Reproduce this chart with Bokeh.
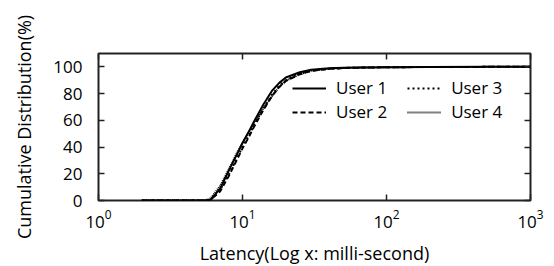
from bokeh.plotting import figure
from bokeh.models import Legend, LegendItem, FixedTicker, LogAxis, LinearAxis
from bokeh.embed import file_html
from bokeh.resources import INLINE

latency_ms = [2, 3, 4, 5, 5.5, 6, 7, 8, 9, 10, 11, 12, 14, 16, 18, 20, 25, 30, 40, 50, 70, 100, 200, 500, 1000]
user1 = [0, 0, 0, 0, 0, 0.5, 9, 22, 33, 43, 51, 59, 72, 82, 88, 92, 96, 97.8, 98.9, 99.3, 99.6, 99.8, 99.9, 100, 100]
user2 = [0, 0, 0, 0, 0, 0.3, 7, 18, 29, 39, 47, 55, 68, 78, 85, 89.5, 94.5, 97, 98.5, 99.1, 99.5, 99.7, 99.9, 100, 100]
user3 = [0, 0, 0, 0, 0, 0.4, 8, 19, 30, 40, 48, 56, 69, 79, 86, 90, 95, 97.3, 98.6, 99.2, 99.5, 99.7, 99.9, 100, 100]
user4 = [0, 0, 0, 0, 0.2, 1.5, 11, 23, 34, 43, 51, 58, 69, 78, 85, 89.5, 94.5, 97, 98.6, 99.2, 99.5, 99.7, 99.9, 100, 100]
series_names = ["User 1", "User 2", "User 3", "User 4"]
y_ticks = [0, 20, 40, 60, 80, 100]
x_ticks = [1, 10, 100, 1000]

FONT = "Open Sans"

p = figure(frame_width=432, frame_height=147, x_axis_type="log", x_range=(1, 1000), y_range=(0, 110),
           output_backend="svg", toolbar_location=None,
           min_border_left=98, min_border_right=16, min_border_top=53, min_border_bottom=50)

p.xgrid.visible = False
p.ygrid.visible = False
p.outline_line_color = "#222222"
p.outline_line_width = 2

dashes = ["solid", "5 3", "2 3", "1 1"]
renderers = []
for ys, d in zip([user1, user2, user3, user4], dashes):
    r = p.line(latency_ms, ys, line_color="black", line_width=2, line_dash=d)
    renderers.append(r)

for ax in (p.xaxis[0], p.yaxis[0]):
    ax.axis_line_color = None
    ax.major_tick_in = 6
    ax.major_tick_out = 0
    ax.minor_tick_in = 0
    ax.minor_tick_out = 0
    ax.major_tick_line_color = "#222222"
    ax.major_tick_line_width = 1.5
    ax.major_label_text_font = FONT
    ax.major_label_text_font_size = "17px"
    ax.major_label_text_color = "black"
    ax.axis_label_text_font = FONT
    ax.axis_label_text_font_style = "normal"
    ax.axis_label_text_color = "black"

p.xaxis.ticker = FixedTicker(ticks=x_ticks)
p.yaxis.ticker = FixedTicker(ticks=y_ticks)
p.xaxis.axis_label = "Latency(Log x: milli-second)"
p.yaxis.axis_label = "Cumulative Distribution(%)"
p.xaxis.axis_label_text_font_size = "18px"
p.yaxis.axis_label_text_font_size = "18px"
p.yaxis.major_label_standoff = 16
p.xaxis.major_label_standoff = 9
p.xaxis.axis_label_standoff = 10
p.yaxis.axis_label_standoff = 14

# mirrored ticks
top = LogAxis(ticker=FixedTicker(ticks=x_ticks), major_label_text_alpha=0,
              axis_line_color=None, major_tick_in=6, major_tick_out=0,
              minor_tick_in=0, minor_tick_out=0, major_tick_line_width=1.5,
              major_tick_line_color="#222222")
right = LinearAxis(ticker=FixedTicker(ticks=y_ticks), major_label_text_alpha=0,
                   axis_line_color=None, major_tick_in=6, major_tick_out=0,
                   minor_tick_in=0, minor_tick_out=0, major_tick_line_width=1.5,
                   major_tick_line_color="#222222")
p.add_layout(top, "above")
p.add_layout(right, "right")

items = [LegendItem(label=n, renderers=[r]) for n, r in zip(series_names, renderers)]

def make_legend(row_items, loc):
    lg = Legend(items=row_items, orientation="horizontal")
    lg.location = loc
    lg.border_line_color = None
    lg.background_fill_alpha = 0
    lg.padding = 0
    lg.margin = 0
    lg.glyph_width = 34
    lg.glyph_height = 16
    lg.label_standoff = 10
    lg.spacing = 20
    lg.label_text_font = FONT
    lg.label_text_font_size = "17px"
    lg.label_text_color = "black"
    return lg

p.add_layout(make_legend([items[0], items[2]], (194, 101)), "center")
p.add_layout(make_legend([items[1], items[3]], (194, 77)), "center")

open("out.html", "w").write(file_html(p, INLINE))
